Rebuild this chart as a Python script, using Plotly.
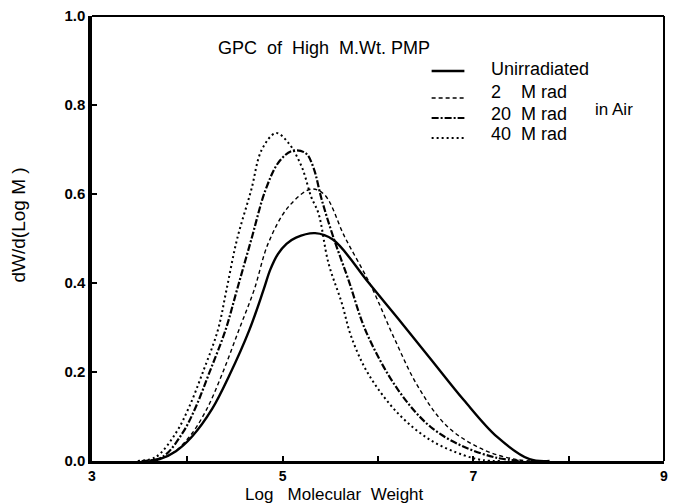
import plotly.graph_objects as go

# ---- data ----
x_unirr = [3.60, 3.71, 3.88, 4.05, 4.26, 4.44, 4.65, 4.80, 4.87, 4.95, 5.04, 5.14, 5.34, 5.53, 5.90, 6.21, 6.55, 6.90, 7.25, 7.59, 7.80]
y_unirr = [0.0, 0.004, 0.022, 0.055, 0.117, 0.192, 0.294, 0.385, 0.430, 0.465, 0.488, 0.502, 0.512, 0.497, 0.401, 0.320, 0.230, 0.137, 0.054, 0.004, 0.0]

x_2m = [3.55, 3.81, 4.02, 4.20, 4.37, 4.54, 4.70, 4.85, 5.06, 5.30, 5.44, 5.65, 5.93, 6.17, 6.42, 6.73, 7.11, 7.46, 7.70]
y_2m = [0.0, 0.013, 0.054, 0.115, 0.198, 0.294, 0.384, 0.49, 0.571, 0.611, 0.598, 0.504, 0.392, 0.276, 0.167, 0.077, 0.025, 0.003, 0.0]

x_20m = [3.52, 3.74, 3.95, 4.09, 4.23, 4.40, 4.52, 4.67, 4.82, 4.96, 5.10, 5.24, 5.32, 5.41, 5.53, 5.69, 5.88, 6.21, 6.55, 6.90, 7.25, 7.50]
y_20m = [0.0, 0.009, 0.063, 0.122, 0.198, 0.294, 0.384, 0.497, 0.609, 0.672, 0.697, 0.692, 0.661, 0.587, 0.504, 0.407, 0.288, 0.16, 0.077, 0.032, 0.007, 0.0]

x_40m = [3.48, 3.67, 3.88, 4.02, 4.16, 4.32, 4.41, 4.52, 4.67, 4.78, 4.93, 5.06, 5.20, 5.30, 5.375, 5.48, 5.62, 5.72, 5.90, 6.21, 6.55, 6.90, 7.10, 7.30]
y_40m = [0.0, 0.009, 0.063, 0.122, 0.198, 0.294, 0.384, 0.497, 0.609, 0.699, 0.737, 0.715, 0.661, 0.593, 0.557, 0.445, 0.355, 0.279, 0.195, 0.107, 0.047, 0.013, 0.002, 0.0]

series_names = ["Unirradiated", "2 M rad", "20 M rad", "40 M rad"]
legend_numbers = ["", "2", "20", "40"]
legend_units = ["Unirradiated", "M rad", "M rad", "M rad"]
x_ticks = [3, 5, 7, 9]
y_ticks = [0.0, 0.2, 0.4, 0.6, 0.8, 1.0]
y_tick_labels = ["0.0", "0.2", "0.4", "0.6", "0.8", "1.0"]

FONT = "Liberation Sans, Arial, sans-serif"

# plot-area geometry in pixels (for placing the hand-drawn legend / labels)
W, H = 673, 504
L, R, T, B = 92, 5, 16, 43
PW, PH = W - L - R, H - T - B


def px_x(px):
    return (px - L) / PW


def px_y(py):
    return (H - B - py) / PH


fig = go.Figure()
styles = [
    dict(width=2.4, dash="solid"),
    dict(width=1.4, dash="4px,3px"),
    dict(width=2.2, dash="7px,2px,2px,2px"),
    dict(width=2.0, dash="2px,3px"),
]
for xs, ys, name, st in zip([x_unirr, x_2m, x_20m, x_40m],
                            [y_unirr, y_2m, y_20m, y_40m],
                            series_names, styles):
    fig.add_trace(go.Scatter(
        x=xs, y=ys, mode="lines", name=name, showlegend=False,
        line=dict(color="black", width=st["width"], dash=st["dash"],
                  shape="spline", smoothing=1.0),
    ))

fig.update_layout(
    width=W, height=H,
    margin=dict(l=L, r=R, t=T, b=B),
    paper_bgcolor="white", plot_bgcolor="white",
    font=dict(family=FONT, color="black", size=17),
    showlegend=False,
    xaxis=dict(
        range=[3, 9], tickmode="array", tickvals=x_ticks,
        ticktext=[str(v) for v in x_ticks],
        ticks="inside", ticklen=5, tickwidth=2, tickcolor="black",
        showline=True, linecolor="black", linewidth=3,
        showgrid=False, zeroline=False,
        tickfont=dict(family=FONT, size=14, color="black", weight="bold"),
        minor=dict(dtick=1, ticks="inside", ticklen=5, tickwidth=2, tickcolor="black", showgrid=False),
    ),
    yaxis=dict(
        range=[0, 1.0], tickmode="array", tickvals=y_ticks, ticktext=y_tick_labels,
        ticks="inside", ticklen=5, tickwidth=2, tickcolor="black",
        showline=True, linecolor="black", linewidth=3.5,
        showgrid=False, zeroline=False,
        tickfont=dict(family=FONT, size=15, color="black", weight="bold"),
    ),
)

# thinner top/right frame
fig.add_shape(type="line", xref="paper", yref="paper", x0=0, x1=1, y0=1, y1=1,
              line=dict(color="black", width=2))
fig.add_shape(type="line", xref="paper", yref="paper", x0=1, x1=1, y0=0, y1=1,
              line=dict(color="black", width=2))

# legend (drawn by hand to match the original's compact layout)
line_rows = [71, 98, 118, 138]
text_rows = [69, 92, 114, 134]
for st, ly, ty, num, unit in zip(styles, line_rows, text_rows, legend_numbers, legend_units):
    fig.add_shape(type="line", xref="paper", yref="paper",
                  x0=px_x(434), x1=px_x(467), y0=px_y(ly), y1=px_y(ly),
                  line=dict(color="black", width=max(st["width"], 1.6), dash=st["dash"]))
    if num:
        fig.add_annotation(text=num, xref="paper", yref="paper",
                           x=px_x(492), y=px_y(ty), xanchor="left", yanchor="middle",
                           showarrow=False, font=dict(family=FONT, size=18, color="black"))
        fig.add_annotation(text=unit, xref="paper", yref="paper",
                           x=px_x(522), y=px_y(ty), xanchor="left", yanchor="middle",
                           showarrow=False, font=dict(family=FONT, size=18, color="black"))
    else:
        fig.add_annotation(text=unit, xref="paper", yref="paper",
                           x=px_x(492), y=px_y(ty), xanchor="left", yanchor="middle",
                           showarrow=False, font=dict(family=FONT, size=18, color="black"))

fig.add_annotation(text="in Air", xref="paper", yref="paper",
                   x=px_x(597), y=px_y(109), xanchor="left", yanchor="middle",
                   showarrow=False, font=dict(family=FONT, size=17, color="black"))

fig.add_annotation(text="GPC\u00a0\u00a0of\u00a0\u00a0High\u00a0\u00a0M.Wt.\u00a0PMP", xref="paper", yref="paper",
                   x=px_x(217), y=px_y(48), xanchor="left", yanchor="middle", showarrow=False,
                   font=dict(family=FONT, size=18, color="black"))
fig.add_annotation(text="Log\u00a0\u00a0\u00a0Molecular\u00a0\u00a0Weight", xref="paper", yref="paper",
                   x=px_x(336), y=px_y(494), xanchor="center", yanchor="middle",
                   showarrow=False, font=dict(family=FONT, size=17, color="black"))
fig.add_annotation(text="dW/d(Log\u00a0M\u00a0)", xref="paper", yref="paper",
                   x=px_x(18), y=px_y(225), xanchor="center", yanchor="middle",
                   textangle=-90, showarrow=False, font=dict(family=FONT, size=19, color="black"))

fig.write_html("out.html")
